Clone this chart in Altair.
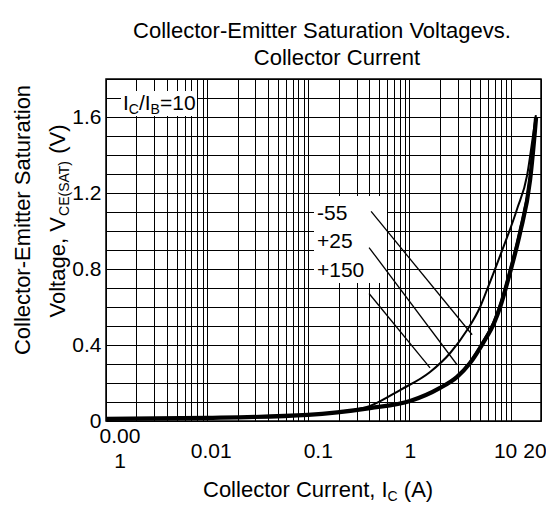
import altair as alt
import pandas as pd

# ---------------- data ----------------
ic_25 = [0.001, 0.01, 0.0991, 0.408, 1.016, 2.01, 2.96, 3.98, 5.36, 6.88, 7.89, 9.91, 12.4, 15.6, 17.1, 17.9]
v_25 = [0.011, 0.016, 0.032, 0.068, 0.105, 0.174, 0.232, 0.305, 0.411, 0.516, 0.600, 0.784, 0.989, 1.268, 1.479, 1.60]

ic_m55 = [0.001, 0.01, 0.0991, 0.408, 1.016, 2.01, 2.96, 3.98, 5.36, 6.88, 7.89, 9.91, 12.4, 15.6, 17.1, 17.8]
v_m55 = [0.011, 0.016, 0.032, 0.068, 0.106, 0.176, 0.236, 0.312, 0.421, 0.53, 0.615, 0.80, 1.01, 1.29, 1.50, 1.61]

ic_150 = [0.001, 0.01, 0.0991, 0.2065, 0.408, 0.809, 1.60, 2.53, 3.72, 5.0, 5.74, 7.89, 11.6, 14.6, 16.7, 17.7]
v_150 = [0.011, 0.016, 0.032, 0.047, 0.079, 0.163, 0.258, 0.358, 0.479, 0.600, 0.679, 0.87, 1.116, 1.295, 1.505, 1.60]

temp_labels = ["-55", "+25", "+150"]
lead_x1 = [0.418, 0.399, 0.399]
lead_y1 = [1.103, 0.913, 0.671]
lead_x2 = [4.17, 2.96, 1.60]
lead_y2 = [0.454, 0.296, 0.28]

x_tick_values = [0.001, 0.01, 0.1, 1, 10, 20]
x_tick_labels = ["0.00\n1", "0.01", "0.1", "1", "10", "20"]
y_label_values = [0, 0.4, 0.8, 1.2, 1.6]

# ---------------- styling ----------------
FONT = "Liberation Sans"
FS = 21      # tick labels / annotations
FT = 22      # titles
SUB = 14
x_label_dx = [14, 4, 10, 1, -5, -6]
x_label_dy = [-15, 0, 0, 0, 0, 0]

W = {' ': 278, '(': 333, ')': 333, ',': 278, '-': 333, '.': 278, '/': 278, '=': 584,
     'A': 667, 'B': 667, 'C': 722, 'E': 667, 'I': 278, 'S': 667, 'T': 611, 'V': 667,
     'a': 556, 'c': 500, 'e': 556, 'g': 556, 'l': 222, 'n': 556, 'o': 556, 'r': 333,
     't': 278, 'u': 556, 'v': 500, 's': 500, 'm': 833, 'i': 222}
for d in "0123456789":
    W[d] = 556


def tw(s, size):
    return sum(W.get(c, 556) for c in s) / 1000.0 * size


xscale = alt.Scale(type="log", domain=[0.001, 20], nice=False)
yscale = alt.Scale(domain=[0, 1.8], nice=False, zero=False)

x_grid = []
for d in range(-3, 2):
    for k in range(1, 10):
        v = round(k * 10 ** d, 6)
        if v <= 20:
            x_grid.append(v)
x_grid.append(20)
y_grid = [round(i * 0.1, 1) for i in range(19)]

xaxis = alt.Axis(values=x_grid, grid=True, gridColor="black", gridWidth=1, gridOpacity=1,
                 labels=False, ticks=False, domain=False, title=None)
yaxis = alt.Axis(values=y_grid, grid=True, gridColor="black", gridWidth=1, gridOpacity=1,
                 ticks=False, domain=False, title=None, labelFont=FONT, labelFontSize=FS,
                 labelColor="black", labelPadding=5, labelOverlap=False,
                 labelExpr="(round(datum.value*10) % 4 == 0 && datum.value < 1.75) ? (datum.value == 0 ? '0' : format(datum.value, '.1f')) : ''")

rows = []
for name, xs, ys in [("-55", ic_m55, v_m55), ("+25", ic_25, v_25), ("+150", ic_150, v_150)]:
    for a, b in zip(xs, ys):
        rows.append({"Ic": a, "V": b, "T": name})
df = pd.DataFrame(rows)

base = alt.Chart(df).encode(
    x=alt.X("Ic:Q", scale=xscale, axis=xaxis),
    y=alt.Y("V:Q", scale=yscale, axis=yaxis),
)


def box(x1, x2, y1, y2, **kw):
    return alt.Chart(pd.DataFrame({"a": [0]})).mark_rect(**kw).encode(
        x=alt.value(x1), x2=alt.value(x2), y=alt.value(y1), y2=alt.value(y2))


box_layers = [box(15, 91, 12, 37, color="white"), box(208, 281, 117, 204, color="white")]

widths = {"-55": 2, "+25": 4.2, "+150": 2}
curve_layers = []
for name in temp_labels:
    curve_layers.append(
        base.transform_filter(alt.datum.T == name).mark_line(
            color="black", strokeWidth=widths[name], interpolate="monotone"))

leads = pd.DataFrame({"Ic": lead_x1, "V": lead_y1, "Ic2": lead_x2, "V2": lead_y2})
lead_layer = alt.Chart(leads).mark_rule(color="black", strokeWidth=1.3).encode(
    x=alt.X("Ic:Q", scale=xscale, axis=xaxis), y=alt.Y("V:Q", scale=yscale, axis=yaxis),
    x2="Ic2:Q", y2="V2:Q")


def txt(s, px, py, size=FS, align="left", baseline="alphabetic", angle=0):
    return alt.Chart(pd.DataFrame({"t": [s]})).mark_text(
        font=FONT, fontSize=size, align=align, baseline=baseline, angle=angle, color="black"
    ).encode(x=alt.value(px), y=alt.value(py), text="t:N")


text_layers = []
# temperature labels
for lab, by in zip(temp_labels, [141, 169, 198]):
    text_layers.append(txt(lab, 211, by))

# IC/IB = 10
px = 17
for s, sub in [("I", False), ("C", True), ("/I", False), ("B", True), ("=10", False)]:
    size = SUB if sub else FS
    text_layers.append(txt(s, px, 35 if sub else 31, size=size))
    px += tw(s, size)

# x tick labels
for v, lab, dx, dy in zip(x_tick_values, x_tick_labels, x_label_dx, x_label_dy):
    text_layers.append(
        alt.Chart(pd.DataFrame({"Ic": [v], "t": [lab]})).mark_text(
            font=FONT, fontSize=FS, align="center", baseline="alphabetic", color="black",
            lineBreak="\n", lineHeight=25, dx=dx, dy=dy
        ).encode(x=alt.X("Ic:Q", scale=xscale, axis=xaxis), y=alt.value(379), text="t:N"))

# x axis title (leading spaces become offsets, SVG collapses them)
px = 97
for s, sub, gap in [("Collector Current, I", False, 0), ("C", True, 0), ("(A)", False, tw(" ", FT))]:
    size = SUB if sub else FT
    px += gap
    text_layers.append(txt(s, px, 422 if sub else 418, size=size))
    px += tw(s, size)

# y axis title (rotated)
text_layers.append(txt("Collector-Emitter Saturation", -76, 141, size=FT, align="center", angle=270))
pieces = [("Voltage, V", False, 0), ("CE(SAT)", True, 0), ("(V)", False, tw(" ", FT))]
total = sum(tw(s, SUB if sub else FT) + g for s, sub, g in pieces)
py = 142 + total / 2
for s, sub, g in pieces:
    size = SUB if sub else FT
    py -= g
    text_layers.append(txt(s, -37 if sub else -41, py, size=size, angle=270))
    py -= tw(s, size)

# chart title
text_layers.append(txt("Collector-Emitter Saturation Voltagevs.", 216, -41, size=FT, align="center"))
text_layers.append(txt("Collector Current", 231, -14, size=FT, align="center"))

border = box(0, 435, 0, 342, fillOpacity=0, stroke="black", strokeWidth=1.5)

chart = alt.layer(*box_layers, *curve_layers, lead_layer, border, *text_layers).properties(
    width=435, height=342,
    autosize=alt.AutoSizeParams(type="none"),
    padding={"left": 98, "top": 71, "right": 5, "bottom": 82},
).configure_view(stroke=None)

chart.save("out.html", embed_options={"renderer": "svg", "actions": False})
